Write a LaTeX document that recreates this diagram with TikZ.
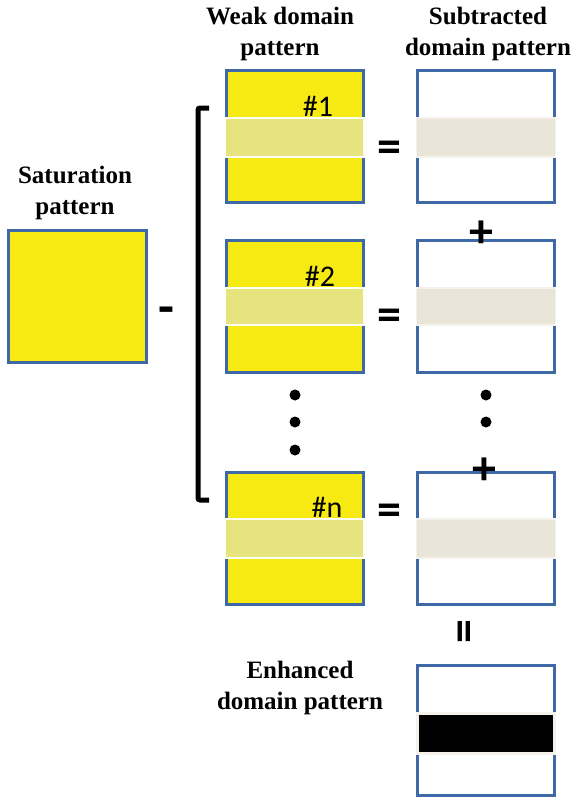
\documentclass[tikz,border=0pt]{standalone}
\usepackage{fontspec}
\setmainfont{Liberation Serif}
\newfontfamily\calib{Carlito}
\definecolor{padyellow}{HTML}{F6EA12}
\definecolor{padblue}{HTML}{3F68A6}
\definecolor{weakband}{HTML}{E6E47F}
\definecolor{subband}{HTML}{E9E6D9}
\definecolor{subedge}{HTML}{F4F2EA}
\begin{document}
\begin{tikzpicture}[x=1pt,y=-1pt,
  frame/.style={draw=padblue,line width=3pt,inner sep=0pt,
    minimum width=137pt,minimum height=132pt},
  yellowbox/.style={frame,fill=padyellow},
  whitebox/.style={frame,fill=white},
  wband/.style={fill=weakband,draw=white!96!yellow,line width=1.6pt,inner sep=0pt,
    minimum width=139pt,minimum height=38pt},
  sband/.style={fill=subband,draw=subedge,line width=1.2pt,inner sep=0pt,
    minimum width=139pt,minimum height=38pt},
  head/.style={font=\bfseries\fontsize{25}{31}\selectfont,align=center,inner sep=0pt},
  tag/.style={font=\calib\fontsize{30}{30}\selectfont,inner sep=0pt},
  sym/.style={font=\calib\bfseries\fontsize{48}{48}\selectfont,inner sep=0pt},
  boldsym/.style={font=\calib\bfseries\fontsize{52}{52}\selectfont,inner sep=0pt},
  dot/.style={circle,fill=black,inner sep=0pt,minimum size=11pt}]
\useasboundingbox (0,0) rectangle (574,798);

% headings
\node[head,anchor=north] (hweak) at (280,7) {Weak domain\\pattern};
\node[head,anchor=north] (hsub) at (488,7) {Subtracted\\domain pattern};
\node[head,anchor=north] (hsat) at (75,166) {Saturation\\pattern};
\node[head,anchor=north] (henh) at (300,661) {Enhanced\\domain pattern};

% saturation pattern
\node[yellowbox,minimum width=138pt] (sat) at (77,296) {};
\node[boldsym] (minus) at (166,316) {-};

% bracket around the weak patterns
\coordinate (bt) at (209,108);
\coordinate (bb) at (209,500);
\draw[line width=5pt,rounded corners=2pt] (bt) -| (198,500) -- (bb);

% weak domain patterns
\node[yellowbox] (w1) at (294.5,136) {};
\node[yellowbox] (w2) at (294.5,306) {};
\node[yellowbox] (wn) at (294.5,538) {};
\node[wband,minimum height=39pt] (wb1) at (294.5,137.5) {};
\node[wband,minimum height=37pt] (wb2) at (294.5,306.5) {};
\node[wband,minimum height=39pt] (wbn) at (294.5,538.5) {};
\node[tag] (t1) at (318,106) {\#1};
\node[tag] (t2) at (320,276) {\#2};
\node[tag] (tn) at (327,507) {\#n};

% subtracted domain patterns
\node[whitebox] (s1) at (486,136) {};
\node[whitebox] (s2) at (486,306) {};
\node[whitebox] (sn) at (486,538) {};
\node[sband,minimum height=39pt] (sb1) at (486,137.5) {};
\node[sband,minimum height=37pt] (sb2) at (486,306.5) {};
\node[sband,minimum height=39pt] (sbn) at (486,538.5) {};

% operators between the columns
\node[sym] (eq1) at (389,152) {=};
\node[sym] (eq2) at (389,320) {=};
\node[sym] (eqn) at (389,515) {=};
\node[sym] (p1) at (481,234) {+};
\node[sym] (pn) at (484,471) {+};

% vertical ellipses
\node[dot] (d1) at (295,395) {};
\node[dot] (d2) at (295,422) {};
\node[dot] (d3) at (295,450) {};
\node[dot] (d4) at (486,395) {};
\node[dot] (d5) at (486,422) {};

% result
\node[sym,rotate=90] (eqr) at (469,632) {=};
\node[whitebox,minimum height=130pt] (enh) at (485.5,730) {};
\node[fill=black,draw=subedge,line width=3pt,inner sep=0pt,
  minimum width=137pt,minimum height=40pt] (eb) at (485.5,733.5) {};
\end{tikzpicture}
\end{document}
